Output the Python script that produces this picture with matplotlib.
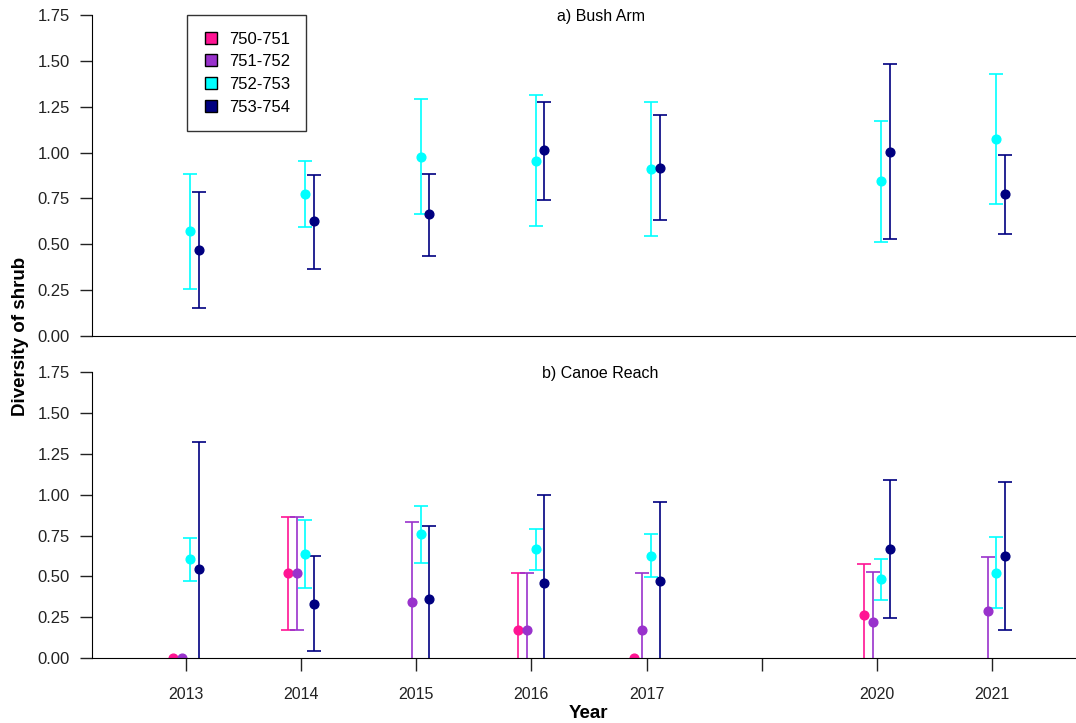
import numpy as np
import matplotlib
matplotlib.use('Agg')
from matplotlib import pyplot as plt
from matplotlib.lines import Line2D

plt.rcParams['font.family'] = ['Liberation Sans', 'DejaVu Sans']

years = ['2013', '2014', '2015', '2016', '2017', '', '2020', '2021']
series = ['750-751', '751-752', '752-753', '753-754']
colors = ['#ff1493', '#9932cc', '#00ffff', '#000080']
nan = np.nan

# a) Bush Arm  (mean, lower, upper) -- only 752-753 and 753-754 sampled
bush = {
    '752-753': ([0.571, 0.772, 0.978, 0.953, 0.911, nan, 0.844, 1.072],
                [0.257, 0.592, 0.665, 0.600, 0.545, nan, 0.513, 0.719],
                [0.884, 0.953, 1.292, 1.312, 1.277, nan, 1.172, 1.426]),
    '753-754': ([0.471, 0.625, 0.665, 1.013, 0.918, nan, 1.005, 0.772],
                [0.150, 0.364, 0.438, 0.739, 0.632, nan, 0.531, 0.558],
                [0.784, 0.877, 0.884, 1.277, 1.207, nan, 1.480, 0.985]),
}

# b) Canoe Reach
canoe = {
    '750-751': ([0.0, 0.518, nan, 0.173, 0.0, nan, 0.263, nan],
                [nan, 0.173, nan, -0.172, nan, nan, -0.052, nan],
                [nan, 0.865, nan, 0.518, nan, nan, 0.578, nan]),
    '751-752': ([0.0, 0.518, 0.345, 0.173, 0.173, nan, 0.218, 0.286],
                [nan, 0.173, -0.145, -0.172, -0.172, nan, -0.091, -0.045],
                [nan, 0.865, 0.835, 0.518, 0.518, nan, 0.527, 0.617]),
    '752-753': ([0.608, 0.639, 0.759, 0.667, 0.625, nan, 0.482, 0.518],
                [0.474, 0.429, 0.580, 0.539, 0.498, nan, 0.353, 0.308],
                [0.737, 0.847, 0.933, 0.788, 0.759, nan, 0.608, 0.739]),
    '753-754': ([0.547, 0.331, 0.361, 0.459, 0.472, nan, 0.667, 0.625],
                [-0.231, 0.045, -0.088, -0.082, -0.011, nan, 0.247, 0.172],
                [1.325, 0.623, 0.810, 1.000, 0.955, nan, 1.090, 1.076]),
}

offsets = [-0.1125, -0.0375, 0.0375, 0.1125]
x = np.arange(1, len(years) + 1)

fig = plt.figure(figsize=(10.76, 7.23), dpi=100)
ax1 = fig.add_axes([0.0858, 0.5353, 0.9142, 0.4440])
ax2 = fig.add_axes([0.0858, 0.0899, 0.9142, 0.3952])


def draw(ax, data, title):
    for s, c, off in zip(series, colors, offsets):
        if s not in data:
            continue
        m, lo, hi = (np.array(v, dtype=float) for v in data[s])
        err = np.vstack([m - lo, hi - m])
        ax.errorbar(x + off, m, yerr=err, fmt='o', color=c, ms=6.3, mec=c,
                    elinewidth=1.2, capsize=4.7, capthick=1.2)
    ax.set_xlim(0.186, 8.73)
    ax.set_ylim(0, 1.75)
    ax.set_yticks(np.arange(0, 1.76, 0.25))
    ax.set_yticklabels(['%.2f' % v for v in np.arange(0, 1.76, 0.25)])
    ax.spines['top'].set_visible(False)
    ax.spines['right'].set_visible(False)
    ax.tick_params(axis='y', length=9, width=1, pad=7, labelsize=12, colors='#222222')
    ax.text(4.6, 1.74, title, ha='center', va='center', fontsize=11.5)


draw(ax1, bush, 'a) Bush Arm')
draw(ax2, canoe, 'b) Canoe Reach')

ax1.set_xticks([])
ax2.set_xticks(x)
ax2.set_xticklabels(years)
ax2.tick_params(axis='x', length=9, width=1, pad=12, labelsize=11.5, colors='#222222')

handles = [Line2D([], [], marker='s', ls='', mfc=c, mec='black', ms=9)
           for c in colors]
fig.legend(handles, series, loc='upper left', bbox_to_anchor=(0.1738, 0.9793),
           fontsize=12, frameon=True, fancybox=False, edgecolor='black',
           borderaxespad=0, handletextpad=0.6, labelspacing=0.46, borderpad=1.0,
           handlelength=0.9)

fig.text(0.0186, 0.535, 'Diversity of shrub', rotation=90, ha='center', va='center',
         fontsize=13.5, fontweight='bold')
fig.text(0.547, 0.0138, 'Year', ha='center', va='center', fontsize=13.5, fontweight='bold')

fig.savefig('out.png', dpi=100)
